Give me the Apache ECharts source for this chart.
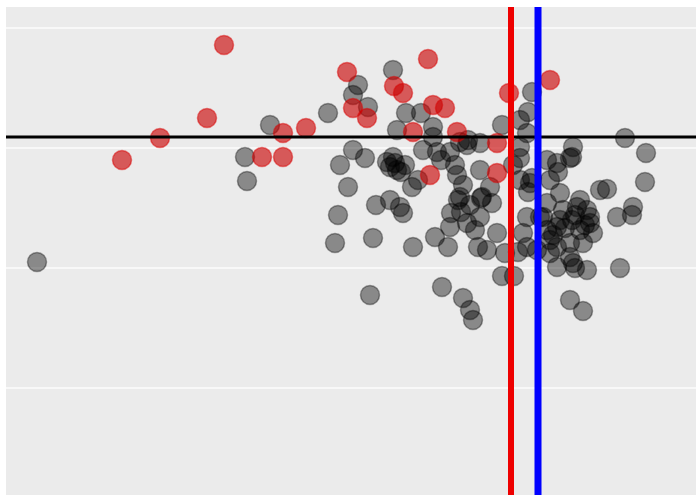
<!DOCTYPE html>
<html>
<head>
<meta charset="utf-8">
<script src="https://cdn.jsdelivr.net/npm/echarts@6/dist/echarts.min.js"></script>
<style>
html,body{margin:0;padding:0;background:#fff;}
#c{width:698px;height:495px;}
</style>
</head>
<body>
<div id="c"></div>
<script>
// Gray (black, semi-transparent) points: [x, y]
const grayPoints = [
[37,246],[245,351],[247,327],[270,383],[328,395],
[393,438],[358,423],[353,413],[368,401],[406,395],[421,395],[397,378],
[353,358],[365,350],[340,343],[348,321],[338,293],[335,265],[373,270],
[376,303],[390,308],[400,301],[403,295],[413,261],[370,213],
[387,346],[390,341],[393,351],[397,338],[401,336],[412,321],[418,328],
[395,345],[405,343],
[433,381],[433,371],[423,358],[437,356],[450,356],[460,366],[468,368],
[457,333],[463,323],[455,343],[441,348],[458,308],[451,295],[461,296],
[470,303],[481,310],[490,321],[492,305],[435,271],[450,281],[448,261],
[442,221],[460,311],[475,278],[480,291],[467,285],[497,275],[478,261],
[463,210],[470,198],[473,188],
[480,365],[467,363],[502,383],[520,388],[527,375],[520,361],[528,396],[532,416],
[480,338],[513,343],[520,350],[482,311],[487,258],[505,255],[518,256],
[502,232],[514,232],[520,328],[530,325],[528,316],[523,275],[527,261],
[527,291],[540,291],[537,258],[547,348],[557,345],[558,336],[570,350],
[573,361],[572,351],[532,330],[550,328],[560,315],[547,305],[563,298],[580,308],
[587,298],[590,285],[593,275],[580,278],[570,265],[557,261],[550,255],
[557,241],[573,245],[587,238],[547,278],[560,288],[572,288],[577,301],
[590,291],[543,291],[550,268],[583,265],[570,251],[557,281],
[565,280],[585,283],[575,293],[553,273],
[600,318],[607,319],[617,291],[632,293],[633,301],[620,240],[575,240],
[570,208],[583,197],[625,370],[646,355],[645,326]
];
// Red points: [x, y]
const redPoints = [
[122,348],[160,370],[207,390],[224,463],[262,351],[283,351],[283,375],
[306,380],[347,436],[353,400],[367,390],[428,449],[394,422],[403,415],
[433,403],[445,400],[413,376],[457,376],[430,333],[497,365],[497,335],
[509,415],[550,428]
];
// Reference lines
const redLineX = 511;
const blueLineX = 538;
const blackLineY = 371;
// Axis ranges and horizontal grid values
const xRange = [6, 696];
const yRange = [13, 501];
const yGridValues = [120, 240, 360, 480];

const gridSeries = yGridValues.map(v => ({
  type: 'line', data: [[xRange[0], v], [xRange[1], v]], symbol: 'none', z: 1, silent: true,
  lineStyle: {color: 'rgba(255,255,255,0.85)', width: 1.5}
}));

const chart = echarts.init(document.getElementById('c'), null, {renderer: 'canvas'});
chart.setOption({
  animation: false,
  backgroundColor: '#ffffff',
  grid: {left: 6, right: 2, top: 7, bottom: 0, show: true, backgroundColor: '#ebebeb', borderWidth: 0},
  xAxis: {
    type: 'value', min: xRange[0], max: xRange[1],
    axisLine: {show: false}, axisTick: {show: false}, axisLabel: {show: false},
    splitLine: {show: false}
  },
  yAxis: {
    type: 'value', min: yRange[0], max: yRange[1],
    axisLine: {show: false}, axisTick: {show: false}, axisLabel: {show: false},
    splitLine: {show: false}
  },
  series: gridSeries.concat([
    {
      type: 'scatter', data: grayPoints, symbolSize: 19, z: 2,
      itemStyle: {color: 'rgba(0,0,0,0.52)', borderColor: 'rgba(0,0,0,0.45)', borderWidth: 1.5}
    },
    {
      type: 'scatter', data: redPoints, symbolSize: 19, z: 3,
      itemStyle: {color: 'rgba(200,0,0,0.78)', borderColor: 'rgba(220,0,0,0.6)', borderWidth: 1.5}
    },
    {
      type: 'line', data: [[xRange[0], blackLineY], [xRange[1], blackLineY]], symbol: 'none', z: 5,
      lineStyle: {color: '#000000', width: 3}
    },
    {
      type: 'line', data: [[redLineX, yRange[0]], [redLineX, yRange[1]]], symbol: 'none', z: 6,
      lineStyle: {color: '#ee0000', width: 6}
    },
    {
      type: 'line', data: [[blueLineX, yRange[0]], [blueLineX, yRange[1]]], symbol: 'none', z: 6,
      lineStyle: {color: '#0000ff', width: 7}
    }
  ])
});
</script>
</body>
</html>
